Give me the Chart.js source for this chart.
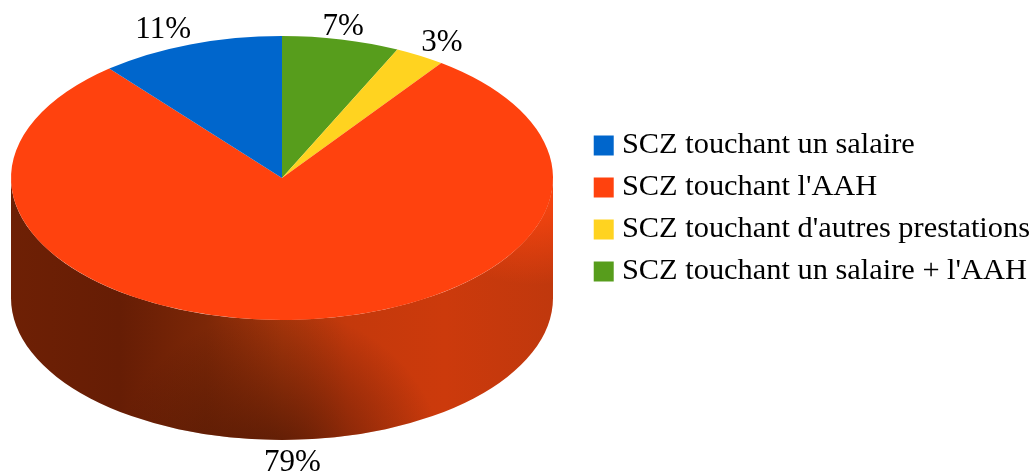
<!DOCTYPE html>
<html>
<head>
<meta charset="utf-8">
<title>SCZ</title>
<script src="https://cdn.jsdelivr.net/npm/chart.js"></script>
<style>
    html, body { margin: 0; padding: 0; background: #fff; overflow: hidden; }
    #wrap { width: 1035px; height: 475px; }
</style>
</head>
<body>
<div id="wrap"><canvas id="pie" width="1035" height="475"></canvas></div>
<script>
// Drawn clockwise from 12 o'clock; the legend lists them the other way round
const categories = ["SCZ touchant un salaire + l'AAH", "SCZ touchant d'autres prestations", "SCZ touchant l'AAH", "SCZ touchant un salaire"];
const values = [7, 3, 79, 11];
const colours = ['#579d1c', '#ffd320', '#ff420e', '#0066cc'];

// Look of the tilted disc
const DISC = { cx: 282, cy: 178, rx: 271, ry: 142, depth: 120 };
const labelFont = '31px "Liberation Serif"';
const labelNudge = [[2, 5], [22, 3], [2, 5], [-27, 2]];

function wallPath(ctx) {
    const { cx, cy, rx, ry, depth } = DISC;
    ctx.beginPath();
    ctx.ellipse(cx, cy, rx, ry, 0, 0, Math.PI);
    ctx.ellipse(cx, cy + depth, rx, ry, 0, Math.PI, 0, true);
    ctx.closePath();
}

// soft elliptical patch of colour on the wall
function glow(ctx, x, y, w, h, rgb, alpha) {
    ctx.save();
    ctx.translate(x, y);
    ctx.scale(w, h);
    const g = ctx.createRadialGradient(0, 0, 0, 0, 0, 1);
    g.addColorStop(0, `rgba(${rgb},${alpha})`);
    g.addColorStop(0.5, `rgba(${rgb},${alpha * 0.5})`);
    g.addColorStop(1, `rgba(${rgb},0)`);
    ctx.fillStyle = g;
    ctx.fillRect(-1, -1, 2, 2);
    ctx.restore();
}

// Side wall of the disc, squashes the arcs into an ellipse, then writes the labels
const disc3d = {
    id: 'disc3d',
    beforeDatasetsDraw(chart) {
        const ctx = chart.ctx;
        const { cx, rx } = DISC;
        ctx.save();
        const side = ctx.createLinearGradient(cx - rx, 0, cx + rx, 0);
        side.addColorStop(0, '#6e2005');
        side.addColorStop(0.2, '#661d05');
        side.addColorStop(0.36, '#7c2707');
        side.addColorStop(0.5, '#a8360b');
        side.addColorStop(0.62, '#c4390c');
        side.addColorStop(0.8, '#cc3a0c');
        side.addColorStop(1, '#c0380d');
        wallPath(ctx);
        ctx.fillStyle = side;
        ctx.fill();
        ctx.clip();
        glow(ctx, 280, 470, 165, 160, '50,14,2', 0.7);
        glow(ctx, 535, 190, 125, 95, '255,70,16', 1);
        ctx.restore();

        const arc = chart.getDatasetMeta(0).data[0];
        ctx.save();
        ctx.translate(DISC.cx, DISC.cy);
        ctx.scale(DISC.rx / arc.outerRadius, DISC.ry / arc.outerRadius);
        ctx.translate(-arc.x, -arc.y);
    },
    afterDatasetsDraw(chart) {
        const ctx = chart.ctx;
        ctx.restore();
        ctx.save();
        ctx.font = labelFont;
        ctx.fillStyle = '#000';
        ctx.textAlign = 'center';
        ctx.textBaseline = 'middle';
        const total = values.reduce((a, b) => a + b, 0);
        chart.getDatasetMeta(0).data.forEach((arc, i) => {
            const mid = (arc.startAngle + arc.endAngle) / 2;
            const dy = Math.sin(mid);
            const x = DISC.cx + DISC.rx * Math.cos(mid) + labelNudge[i][0];
            const y = DISC.cy + 160 * dy + (dy > 0 ? DISC.depth : 0) + labelNudge[i][1];
            ctx.fillText(Math.round(values[i] / total * 100) + '%', x, y);
        });
        ctx.restore();
    }
};

new Chart(document.getElementById('pie'), {
    type: 'pie',
    data: {
        labels: categories,
        datasets: [{ data: values, backgroundColor: colours, borderWidth: 0 }]
    },
    options: {
        responsive: false,
        animation: false,
        events: [],
        layout: { padding: { bottom: 58, right: -5 } },
        plugins: {
            tooltip: { enabled: false },
            legend: {
                position: 'right',
                reverse: true,
                labels: {
                    color: '#000',
                    boxWidth: 6,
                    boxHeight: 6,
                    padding: 11.6,
                    font: { family: '"Liberation Serif"', size: 30.4 },
                    // thick stroke grows the box to 20px while keeping the text close to it
                    generateLabels: chart => Chart.overrides.pie.plugins.legend.labels.generateLabels(chart)
                        .map(item => ({ ...item, strokeStyle: item.fillStyle, lineWidth: 14, lineJoin: 'miter' }))
                }
            }
        }
    },
    plugins: [disc3d]
});
</script>
</body>
</html>
